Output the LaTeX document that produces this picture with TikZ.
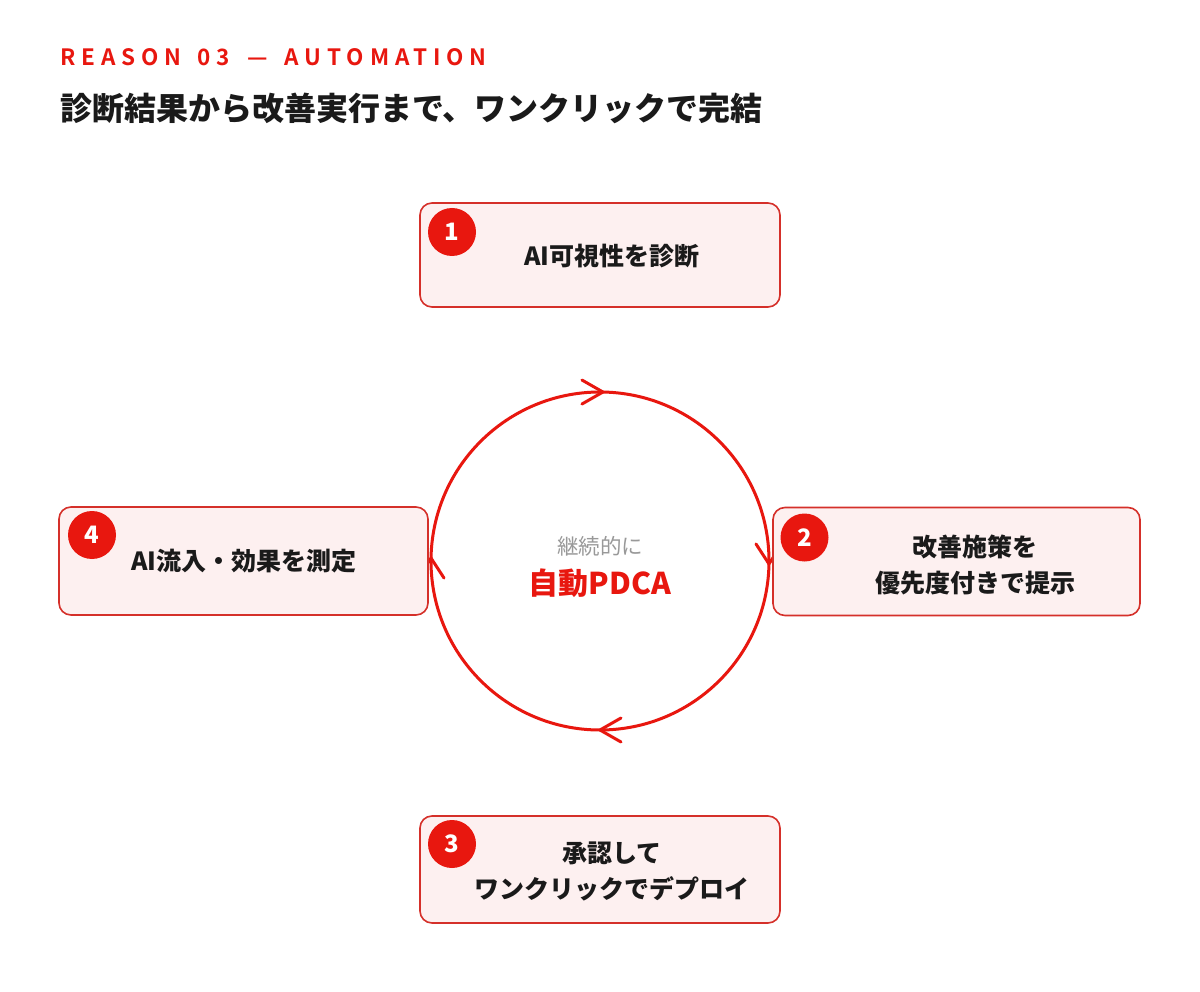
\documentclass[tikz,border=0pt]{standalone}
\usepackage{fontspec}
\setmainfont{Noto Sans CJK JP}
\newfontfamily\medfont{Noto Sans CJK JP Bold}[LetterSpace=26]
\definecolor{accent}{HTML}{E8170F}
\definecolor{boxline}{HTML}{D5302A}
\definecolor{boxfill}{HTML}{FDF0F0}
\definecolor{ink}{HTML}{1A1A1A}
\definecolor{soft}{HTML}{999999}
\begin{document}
\begin{tikzpicture}[x=1pt,y=-1pt,
  stepbox/.style={draw=boxline, line width=1.6pt, fill=boxfill, rounded corners=12pt, inner sep=0pt},
  badge/.style={circle, fill=accent, minimum size=48pt, inner sep=0pt, text=white, font=\bfseries\fontsize{24}{28}\selectfont},
  boxtext/.style={inner sep=0pt, text=ink, align=center, font=\bfseries\fontsize{25}{36}\selectfont},
  chev/.style={draw=accent, line width=3pt, line cap=round, line join=round}]
\useasboundingbox (0,0) rectangle (1200,992);
\fill[white] (0,0) rectangle (1200,992);

% header
\node[anchor=west, inner sep=0pt, text=accent, font=\medfont\fontsize{22.5}{26}\selectfont] (kicker) at (60,57) {REASON\hspace{5pt} 03\hspace{7pt} —\hspace{6pt} AUTOMATION};
\node[anchor=west, inner sep=0pt, text=ink, font=\bfseries\fontsize{32}{36}\selectfont] (head) at (60,108) {診断結果から改善実行まで、ワンクリックで完結};

% cycle
\node[circle, draw=accent, line width=3pt, minimum size=338pt, inner sep=0pt, outer sep=0pt] (cyc) at (600,561) {};
\draw[chev] ([shift={(-21pt,12pt)}]cyc.89) -- (cyc.89) -- ([shift={(-21pt,-12pt)}]cyc.89);
\draw[chev] ([shift={(-13pt,20pt)}]cyc.-1) -- (cyc.-1) -- ([shift={(13pt,20pt)}]cyc.-1);
\draw[chev] ([shift={(21pt,12pt)}]cyc.south) -- (cyc.south) -- ([shift={(21pt,-12pt)}]cyc.south);
\draw[chev] ([shift={(-13pt,-20pt)}]cyc.179) -- (cyc.179) -- ([shift={(13pt,-20pt)}]cyc.179);

\node[text=soft, inner sep=0pt, font=\fontsize{21.5}{24}\selectfont] (sub) at (600,546) {継続的に};
\node[text=accent, inner sep=0pt, font=\bfseries\fontsize{30}{34}\selectfont] (main) at (600,583) {自動PDCA};

% boxes
\node[stepbox, minimum width=360pt, minimum height=104pt] (b1) at (600,255) {};
\node[stepbox, minimum width=367pt, minimum height=108pt] (b2) at (956.5,561.5) {};
\node[stepbox, minimum width=360pt, minimum height=107pt] (b3) at (600,869.5) {};
\node[stepbox, minimum width=369pt, minimum height=108pt] (b4) at (243.5,561) {};

\node[badge] (n1) at (452,232) {1};
\node[badge] (n2) at (804.5,537.5) {2};
\node[badge] (n3) at (452,844) {3};
\node[badge] (n4) at (92,535) {4};

\node[boxtext] (t1) at (612,256) {AI可視性を診断};
\node[boxtext] (t2) at (975,565) {改善施策を\\優先度付きで提示};
\node[boxtext] (t3) at (612,871) {承認して\\ワンクリックでデプロイ};
\node[boxtext] (t4) at (244,561) {AI流入・効果を測定};
\end{tikzpicture}
\end{document}
